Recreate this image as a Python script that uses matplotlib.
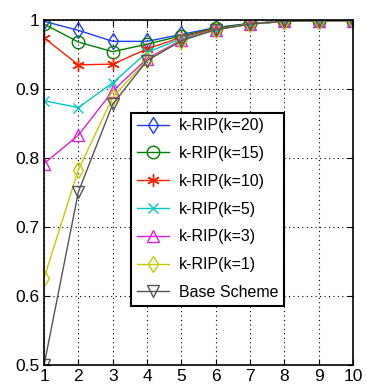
import matplotlib
matplotlib.use("Agg")
import matplotlib.pyplot as plt

plt.rcParams['font.family'] = ['Liberation Sans', 'DejaVu Sans']

x = [1, 2, 3, 4, 5, 6, 7, 8, 9, 10]
k20 = [0.998, 0.985, 0.969, 0.969, 0.979, 0.989, 0.995, 0.998, 0.999, 0.999]
k15 = [0.994, 0.968, 0.954, 0.965, 0.977, 0.988, 0.995, 0.998, 0.999, 0.999]
k10 = [0.974, 0.935, 0.936, 0.958, 0.975, 0.987, 0.994, 0.998, 0.999, 0.999]
k5 = [0.883, 0.873, 0.909, 0.953, 0.973, 0.986, 0.994, 0.998, 0.999, 0.999]
k3 = [0.792, 0.833, 0.897, 0.944, 0.971, 0.986, 0.994, 0.998, 0.999, 0.999]
k1 = [0.626, 0.783, 0.888, 0.942, 0.970, 0.986, 0.994, 0.998, 0.999, 0.999]
base = [0.5, 0.751, 0.878, 0.941, 0.970, 0.986, 0.994, 0.998, 0.999, 0.999]

labels = ['k-RIP(k=20)', 'k-RIP(k=15)', 'k-RIP(k=10)', 'k-RIP(k=5)',
          'k-RIP(k=3)', 'k-RIP(k=1)', 'Base Scheme']
series = [k20, k15, k10, k5, k3, k1, base]
colors = ['#1f3fff', '#008000', '#ff2000', '#00c8c8', '#e020e0', '#c8c800', '#555555']
markers = ['d', 'o', (6, 2, 0), 'x', '^', 'd', 'v']
msizes = [8, 9, 9, 7, 8, 8, 8]

fig = plt.figure(figsize=(3.67, 3.91), dpi=100)
ax = fig.add_axes([0.12, 0.066, 0.842, 0.883])
for y, lab, c, m, ms in zip(series, labels, colors, markers, msizes):
    ax.plot(x, y, color=c, marker=m, markersize=ms, markerfacecolor='none',
            markeredgecolor=c, linewidth=1, label=lab)

ax.set_xlim(1, 10)
ax.set_ylim(0.5, 1.0)
ax.set_xticks(x)
ax.set_yticks([0.5, 0.6, 0.7, 0.8, 0.9, 1.0])
ax.set_yticklabels(['0.5', '0.6', '0.7', '0.8', '0.9', '1'])
ax.tick_params(direction='in', labelsize=12.5, top=True, right=True, length=4, pad=3)
ax.grid(True, color='black', linestyle=(0, (1, 3)), linewidth=0.8)
for s in ax.spines.values():
    s.set_linewidth(1.2)

leg = ax.legend(loc='center', bbox_to_anchor=(0.53, 0.452), fontsize=11.5,
                fancybox=False, framealpha=1, edgecolor='black',
                handlelength=2.0, borderpad=0.35, labelspacing=0.8,
                handletextpad=0.65, borderaxespad=0)
leg.get_frame().set_linewidth(1.5)

fig.savefig('out.png', dpi=100)
